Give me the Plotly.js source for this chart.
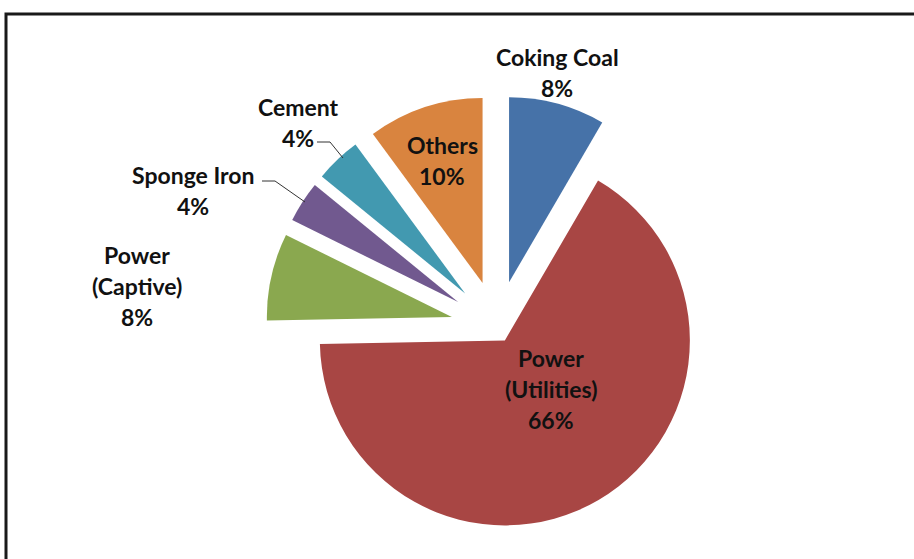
<!DOCTYPE html>
<html>
<head>
<meta charset="utf-8">
<script src="https://cdn.plot.ly/plotly-3.0.1.min.js"></script>
<style>
  html, body { margin: 0; padding: 0; background: #fff; }
  #chart { width: 914px; height: 559px; }
</style>
</head>
<body>
<div id="chart"></div>
<script>
// ---- data ----
var labels = ['Coking Coal', 'Power<br>(Utilities)', 'Power<br>(Captive)', 'Sponge Iron', 'Cement', 'Others'];
var values = [8.4, 66.3, 7.6, 3.6, 4.0, 10.1];
var colors = ['#4672A8', '#A84644', '#8AA84F', '#71598F', '#4299B0', '#D9843F'];
var pulls  = [0.25, 0.084, 0.25, 0.25, 0.25, 0.25];

// ---- layout helpers (pixel positions of label text, first-line centre) ----
var W = 914, H = 559;
var labelPos = [[557, 57], [551, 358], [137, 255], [193, 175], [298, 107], [442, 145]];
var lineGap = 31;
function px(x) { return x / W; }
function py(y) { return 1 - y / H; }

var total = values.reduce(function (a, b) { return a + b; }, 0);
var annotations = [];
labels.forEach(function (lab, i) {
  var lines = lab.split('<br>');
  lines.push(Math.round(values[i] / total * 100) + '%');
  lines.forEach(function (t, k) {
    annotations.push({
      xref: 'paper', yref: 'paper',
      x: px(labelPos[i][0]), y: py(labelPos[i][1] + k * lineGap),
      xanchor: 'center', yanchor: 'middle',
      text: t, showarrow: false,
      font: { family: 'Lato, "Open Sans", sans-serif', size: 23, color: '#111', weight: 700 }
    });
  });
});

function pathPx(pts) {
  return 'M' + pts.map(function (p) { return px(p[0]) + ',' + py(p[1]); }).join(' L');
}

var cx = 497, cy = 327, half = 231.25;
var data = [{
  type: 'pie',
  labels: labels,
  values: values,
  sort: false,
  direction: 'clockwise',
  rotation: 0,
  pull: pulls,
  marker: { colors: colors, line: { width: 0 } },
  textinfo: 'none',
  hoverinfo: 'none',
  showlegend: false,
  domain: { x: [(cx - half) / W, (cx + half) / W], y: [(H - cy - half) / H, (H - cy + half) / H] }
}];

var shapes = [
  // outer frame
  { type: 'rect', xref: 'paper', yref: 'paper', x0: px(6), x1: px(930), y0: py(580), y1: py(14),
    line: { color: '#1a1a1a', width: 3 } },
  // leader lines
  { type: 'path', xref: 'paper', yref: 'paper', path: pathPx([[317, 142], [330, 142], [343, 158]]),
    line: { color: '#333', width: 1 } },
  { type: 'path', xref: 'paper', yref: 'paper', path: pathPx([[262, 181], [275, 181], [305, 202]]),
    line: { color: '#333', width: 1 } }
];

var layout = {
  width: W, height: H,
  margin: { l: 0, r: 0, t: 0, b: 0 },
  paper_bgcolor: '#fff', plot_bgcolor: '#fff',
  showlegend: false,
  annotations: annotations,
  shapes: shapes
};

Plotly.newPlot('chart', data, layout, { displayModeBar: false, staticPlot: true });
</script>
</body>
</html>
